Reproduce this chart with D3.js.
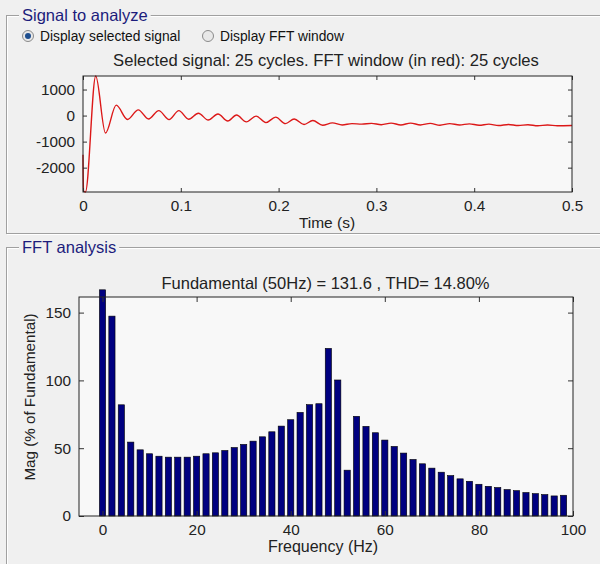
<!DOCTYPE html>
<html>
<head>
<meta charset="utf-8">
<script src="https://cdn.jsdelivr.net/npm/d3@7"></script>
<style>
body{margin:0;background:#f0f0f0;}
svg{display:block;font-family:"Liberation Sans",Arial,sans-serif;}
</style>
</head>
<body>
<svg id="drawing_region"></svg>
<script>
// signal: turning points (s, value)
const sig_t = [0,0.0005,0.0025,0.013,0.023,0.034,0.0455,0.0565,0.067,0.0775,0.088,0.098,0.108,0.118,0.128,0.138,0.148,0.157,0.167,0.177,0.187,0.197,0.207,0.216,0.226,0.235,0.245,0.255,0.265,0.275,0.285,0.295,0.305,0.315,0.325,0.335,0.345,0.355,0.365,0.375,0.385,0.395,0.405,0.415,0.425,0.435,0.445,0.455,0.465,0.475,0.485,0.5]
const sig_v = [-1500,-2900,-2935,1520,-670,400,-150,220,-130,190,-150,190,-140,90,-170,60,-210,20,-240,-20,-270,-60,-310,-130,-340,-190,-370,-280,-360,-310,-330,-300,-350,-290,-360,-290,-360,-300,-370,-310,-360,-320,-370,-330,-380,-340,-380,-350,-390,-360,-390,-380]
const time_ticks = [0,0.1,0.2,0.3,0.4,0.5]
const sig_ticks = [-2000,-1000,0,1000]

// FFT bars
const freqs = [0,2,4,6,8,10,12,14,16,18,20,22,24,26,28,30,32,34,36,38,40,42,44,46,48,50,52,54,56,58,60,62,64,66,68,70,72,74,76,78,80,82,84,86,88,90,92,94,96,98]
const mags = [166.8,147.4,82,54.5,48.8,45.9,44.1,43.4,43.4,43.4,44.1,45.9,46.6,48.3,50.5,52.8,55.2,58.4,62.1,66.3,71,76.4,82.1,82.8,123.6,100.3,33.8,73.5,66.1,61.4,56,51.3,46.4,41.7,38.5,35.3,32.3,29.8,27.4,25.6,23.4,21.9,21,19.5,18.7,17.3,16.5,15.8,14.8,15.3]
const freq_ticks = [0,20,40,60,80,100]
const mag_ticks = [0,50,100,150]

const svg = d3.select("#drawing_region")
    .attr("width",600)
    .attr("height",564)

svg.append("rect").attr("width",600).attr("height",564).attr("fill","#f0f0f0")

// etched GUI panel with title
function panel(y0,y1,title){
    const g = svg.append("g")
    g.append("rect").attr("x",7.5).attr("y",y0+1.5).attr("width",620).attr("height",y1-y0)
        .attr("fill","none").attr("stroke","#ffffff")
    g.append("rect").attr("x",6.5).attr("y",y0+0.5).attr("width",620).attr("height",y1-y0)
        .attr("fill","none").attr("stroke","#a0a0a0")
    const bg = g.append("rect").attr("fill","#f0f0f0")
    const t = g.append("text")
        .attr("x",22).attr("y",y0+5.5)
        .attr("font-size",16.5)
        .attr("fill","#1c1c7c")
        .text(title)
    const w = t.node().getComputedTextLength()
    bg.attr("x",19).attr("y",y0-5).attr("width",w+6).attr("height",12)
}
panel(15,233,"Signal to analyze")
panel(247,600,"FFT analysis")

// radio buttons
function radio(x,label,on){
    const g = svg.append("g")
    g.append("circle").attr("cx",x).attr("cy",36).attr("r",5.5)
        .attr("fill","#e8e8e8").attr("stroke","#8a8a8a")
    if(on){
        g.append("circle").attr("cx",x).attr("cy",36).attr("r",3)
            .attr("fill","#1f4f8f")
    }
    g.append("text").attr("x",x+12).attr("y",40.5)
        .attr("font-size",13.8).attr("fill","#111")
        .text(label)
}
radio(28,"Display selected signal",true)
radio(208,"Display FFT window",false)

// axes box with inward ticks on all four sides
function box(x,y,tick){
    const [x0,x1] = x.range(), [y0,y1] = y.range()
    const g = svg.append("g")
    g.append("g").attr("transform",`translate(0,${y0})`)
        .call(d3.axisBottom(x).tickValues(x.ticks_).tickSizeInner(-tick).tickSizeOuter(0).tickPadding(8).tickFormat(x.fmt))
    g.append("g").attr("transform",`translate(0,${y1})`)
        .call(d3.axisTop(x).tickValues(x.ticks_).tickSizeInner(-tick).tickSizeOuter(0).tickFormat(""))
    g.append("g").attr("transform",`translate(${x0},0)`)
        .call(d3.axisLeft(y).tickValues(y.ticks_).tickSizeInner(-tick).tickSizeOuter(0).tickPadding(8).tickFormat(y.fmt))
    g.append("g").attr("transform",`translate(${x1},0)`)
        .call(d3.axisRight(y).tickValues(y.ticks_).tickSizeInner(-tick).tickSizeOuter(0).tickFormat(""))
    g.selectAll(".domain").remove()
    g.selectAll(".tick line").attr("stroke","#333")
    g.selectAll(".tick text").attr("font-size",15.3).attr("fill","#222")
        .attr("font-family","Liberation Sans, Arial, sans-serif")
    g.append("rect").attr("x",x0).attr("y",y1).attr("width",x1-x0).attr("height",y0-y1)
        .attr("fill","none").attr("stroke","#222").attr("stroke-width",1)
    return g
}

// ---- top plot: signal
const sx = d3.scaleLinear().domain([0,0.5]).range([83,572])
const sy = d3.scaleLinear().domain(d3.extent(sig_v)).range([192,76])
sx.ticks_ = time_ticks; sx.fmt = d=>d
sy.ticks_ = sig_ticks; sy.fmt = d=>d

svg.append("rect").attr("x",83).attr("y",76).attr("width",572-83).attr("height",192-76).attr("fill","#f8f8f8")

const sig = sig_t.map((t,i)=>({t:t,v:sig_v[i]}))
svg.append("path")
    .datum(sig)
    .attr("fill","none")
    .attr("stroke","#dc1818")
    .attr("stroke-width",1.4)
    .attr("d",d3.line().x(d=>sx(d.t)).y(d=>sy(d.v)).curve(d3.curveMonotoneX))

box(sx,sy,4)

svg.append("text").attr("x",326).attr("y",65.5).attr("text-anchor","middle")
    .attr("font-size",16.6).attr("fill","#222")
    .text("Selected signal: 25 cycles. FFT window (in red): 25 cycles")
svg.append("text").attr("x",327).attr("y",227.5).attr("text-anchor","middle")
    .attr("font-size",15.5).attr("fill","#222")
    .text("Time (s)")

// ---- bottom plot: FFT
const fx = d3.scaleLinear().domain([-5,100]).range([79,573])
const fy = d3.scaleLinear().domain([0,161.5]).range([516,297])
fx.ticks_ = freq_ticks; fx.fmt = d=>d
fy.ticks_ = mag_ticks; fy.fmt = d=>d

svg.append("rect").attr("x",79).attr("y",297).attr("width",573-79).attr("height",516-297).attr("fill","#f8f8f8")

const bw = (fx(2)-fx(0))*0.66
svg.append("g").selectAll("rect")
    .data(freqs.map((f,i)=>({f:f,m:mags[i]})))
    .join("rect")
    .attr("x",d=>fx(d.f)-bw/2)
    .attr("y",d=>fy(d.m))
    .attr("width",bw)
    .attr("height",d=>fy(0)-fy(d.m))
    .attr("fill","#000080")
    .attr("stroke","#000")
    .attr("stroke-width",0.6)

box(fx,fy,5)

svg.append("text").attr("x",325.5).attr("y",288.5).attr("text-anchor","middle")
    .attr("font-size",16.5).attr("fill","#222")
    .text("Fundamental (50Hz) = 131.6 , THD= 14.80%")
svg.append("text").attr("x",323).attr("y",551.5).attr("text-anchor","middle")
    .attr("font-size",16).attr("fill","#222")
    .text("Frequency (Hz)")
svg.append("text")
    .attr("transform","translate(35,397) rotate(-90)")
    .attr("text-anchor","middle")
    .attr("font-size",15.2).attr("fill","#222")
    .text("Mag (% of Fundamental)")
</script>
</body>
</html>
